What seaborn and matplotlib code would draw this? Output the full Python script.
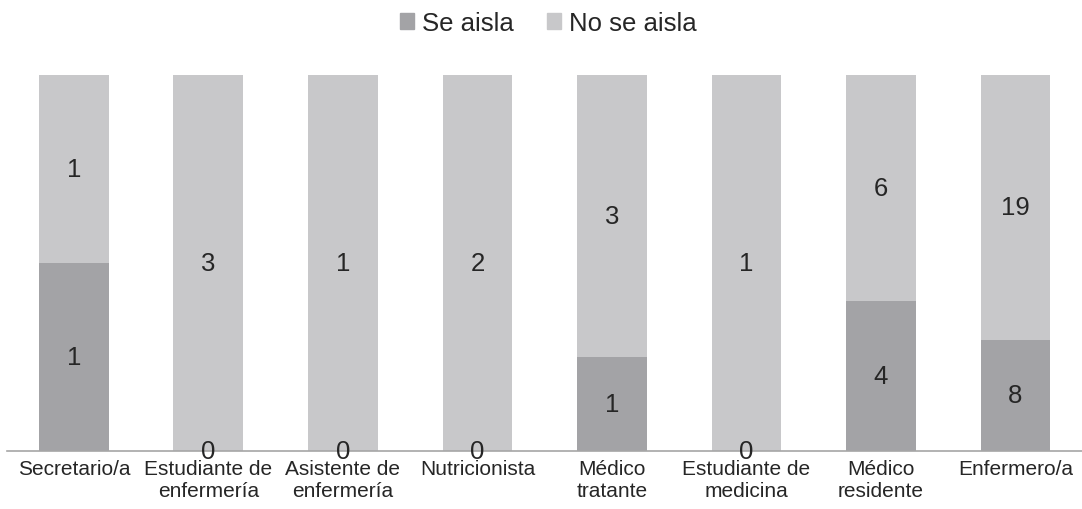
import numpy as np
import pandas as pd
import seaborn as sns
import matplotlib.pyplot as plt
from matplotlib.patches import Patch

sns.set_style("white")
plt.rcParams["font.family"] = ["Liberation Sans", "DejaVu Sans"]

categories = ["Secretario/a", "Estudiante de\nenfermería", "Asistente de\nenfermería",
              "Nutricionista", "Médico\ntratante", "Estudiante de\nmedicina",
              "Médico\nresidente", "Enfermero/a"]
se_aisla = [1, 0, 0, 0, 1, 0, 4, 8]
no_se_aisla = [1, 3, 1, 2, 3, 1, 6, 19]

dark = "#a3a3a6"
light = "#c8c8ca"
text_color = "#262626"

df = pd.DataFrame({"cat": categories, "se": se_aisla, "no": no_se_aisla})
df["total"] = df["se"] + df["no"]
df["se_pct"] = df["se"] / df["total"]
df["full"] = 1.0

fig = plt.figure(figsize=(10.82, 5.10), dpi=100)
ax = fig.add_axes([0.0062, 0.1137, 0.9945, 0.7373])

# light bar for the full height, dark share drawn over it
sns.barplot(data=df, x="cat", y="full", color=light, width=0.52, saturation=1,
            linewidth=0, ax=ax)
sns.barplot(data=df, x="cat", y="se_pct", color=dark, width=0.52, saturation=1,
            linewidth=0, ax=ax)

for i, row in df.iterrows():
    ax.text(i, row["se_pct"] / 2, str(row["se"]), ha="center", va="center",
            fontsize=18.5, color=text_color)
    ax.text(i, row["se_pct"] + (1 - row["se_pct"]) / 2, str(row["no"]), ha="center",
            va="center", fontsize=18.5, color=text_color)

ax.set_ylim(0, 1)
ax.set_xlim(-0.5, len(categories) - 0.5)
ax.set_xlabel("")
ax.set_ylabel("")
ax.set_yticks([])
ax.tick_params(axis="x", labelsize=15, colors=text_color, length=0, pad=6)
for lbl in ax.get_xticklabels():
    lbl.set_linespacing(1.15)
for s in ["top", "right", "left"]:
    ax.spines[s].set_visible(False)
ax.spines["bottom"].set_color("#a6a6a6")
ax.spines["bottom"].set_linewidth(1.2)

handles = [Patch(color=dark, label="Se aisla"), Patch(color=light, label="No se aisla")]
fig.legend(handles=handles, loc="center", bbox_to_anchor=(0.507, 0.953), ncol=2,
           frameon=False, fontsize=18.5, handlelength=0.55, handleheight=0.55,
           handletextpad=0.3, columnspacing=1.3, labelcolor=text_color)

fig.savefig("out.png", dpi=100)
